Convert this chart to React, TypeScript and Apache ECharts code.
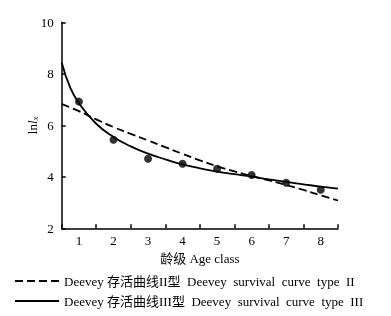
import React, { useEffect, useRef } from "react";
import * as echarts from "echarts";

const ageClasses = ["1", "2", "3", "4", "5", "6", "7", "8"];
const ageValues = [1, 2, 3, 4, 5, 6, 7, 8];
const observedLnLx = [6.92, 5.44, 4.7, 4.51, 4.31, 4.07, 3.77, 3.5];
const curveX = [0.5, 0.75, 1, 1.5, 2, 2.5, 3, 3.5, 4, 4.5, 5, 5.5, 6, 6.5, 7, 7.5, 8, 8.5];
const typeIIValues = [6.82, 6.69, 6.55, 6.23, 5.93, 5.67, 5.41, 5.15, 4.89, 4.64, 4.41, 4.21, 4.03, 3.86, 3.68, 3.49, 3.28, 3.08];
const typeIIIValues = [8.44, 7.45, 6.86, 6.06, 5.55, 5.18, 4.9, 4.68, 4.48, 4.33, 4.2, 4.1, 4.01, 3.9, 3.8, 3.71, 3.62, 3.54];
const yTicks = { min: 2, max: 10, interval: 2 };
const typeIIName = "Deevey 存活曲线II型  Deevey  survival  curve  type  II";
const typeIIIName = "Deevey 存活曲线III型  Deevey  survival  curve  type  III";

const FONT = "'Liberation Serif', 'Noto Sans CJK SC', serif";

export default function App() {
  const ref = useRef<HTMLDivElement>(null);
  useEffect(() => {
    if (!ref.current) return;
    const chart = echarts.init(ref.current, undefined, { renderer: "svg" });
    const pair = (xs: number[], ys: number[]) => xs.map((x, i) => [x, ys[i]]);
    chart.setOption({
      animation: false,
      textStyle: { fontFamily: FONT, color: "#000" },
      grid: { left: 61.7, right: 53, top: 22.3, bottom: 87.7 },
      legend: {
        orient: "vertical",
        left: 14,
        top: 274,
        padding: 0,
        itemWidth: 44,
        itemHeight: 14,
        itemGap: 6,
        itemStyle: { opacity: 0 },
        data: [typeIIName, typeIIIName],
        textStyle: { fontFamily: FONT, fontSize: 13, color: "#000", lineHeight: 14 },
      },
      xAxis: [
        {
          type: "value",
          min: 0.5,
          max: 8.5,
          show: false,
        },
        {
          type: "category",
          data: ageClasses,
          boundaryGap: true,
          position: "bottom",
          name: "龄级 Age class",
          nameLocation: "middle",
          nameGap: 23,
          nameTextStyle: { fontFamily: FONT, fontSize: 13, color: "#000" },
          axisLine: { show: true, lineStyle: { color: "#000", width: 1.5 } },
          axisTick: { show: true, inside: true, length: 4, alignWithLabel: false, lineStyle: { color: "#000", width: 1.5 } },
          axisLabel: { fontFamily: FONT, fontSize: 13, color: "#000", margin: 6 },
          splitLine: { show: false },
        },
      ],
      yAxis: {
        type: "value",
        min: yTicks.min,
        max: yTicks.max,
        interval: yTicks.interval,
        name: "{a|ln}{b|l}{c|x}",
        nameLocation: "middle",
        nameGap: 22,
        nameMoveOverlap: false,
        nameRotate: 90,
        nameTextStyle: {
          rich: {
            a: { fontFamily: FONT, fontSize: 13, color: "#000" },
            b: { fontFamily: FONT, fontSize: 13, fontStyle: "italic", color: "#000" },
            c: { fontFamily: FONT, fontSize: 9, fontStyle: "italic", color: "#000", verticalAlign: "bottom", padding: [6, 0, 0, 0] },
          },
        },
        axisLine: { show: true, lineStyle: { color: "#000", width: 1.5 } },
        axisTick: { show: true, inside: true, length: 4, lineStyle: { color: "#000", width: 1.5 } },
        axisLabel: { fontFamily: FONT, fontSize: 13, color: "#000", margin: 8 },
        splitLine: { show: false },
      },
      series: [
        {
          name: typeIIName,
          type: "line",
          xAxisIndex: 0,
          data: pair(curveX, typeIIValues),
          smooth: true,
          symbol: "none",
          lineStyle: { color: "#000", width: 1.8, type: [8, 4] },
          itemStyle: { color: "#000" },
          z: 3,
        },
        {
          name: typeIIIName,
          type: "line",
          xAxisIndex: 0,
          data: pair(curveX, typeIIIValues),
          smooth: true,
          symbol: "none",
          lineStyle: { color: "#000", width: 1.8, type: "solid" },
          itemStyle: { color: "#000" },
          z: 3,
        },
        {
          name: "observed",
          type: "scatter",
          xAxisIndex: 0,
          data: pair(ageValues, observedLnLx),
          symbol: "circle",
          symbolSize: 8,
          itemStyle: { color: "#000" },
          z: 4,
        },
      ],
    });
    return () => chart.dispose();
  }, []);
  return <div ref={ref} style={{ position: "fixed", left: 0, top: 0, width: 391, height: 316 }} />;
}
